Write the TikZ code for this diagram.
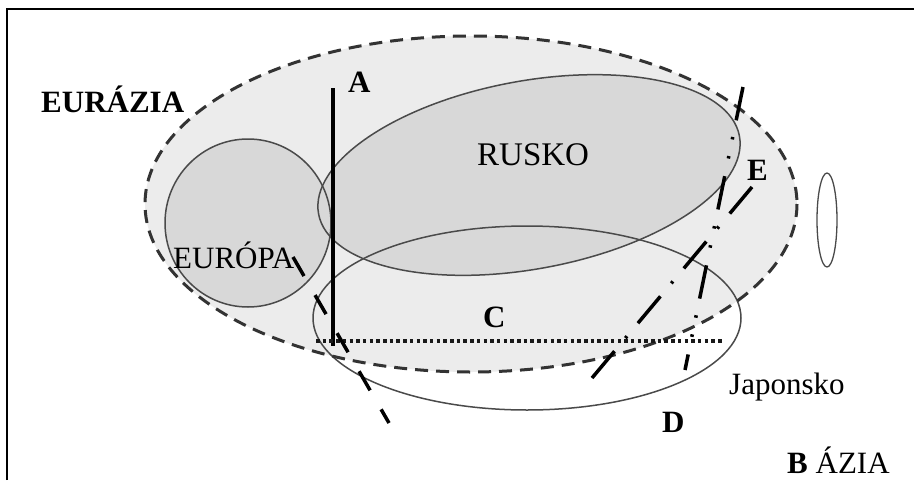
\documentclass[tikz,border=0pt]{standalone}
\usepackage{fontspec}
\setmainfont{Liberation Serif}
\definecolor{eurfill}{HTML}{ECECEC}
\definecolor{darkfill}{HTML}{D8D8D8}
\definecolor{outlinegray}{HTML}{4A4A4A}
\definecolor{dashgray}{HTML}{333333}
\begin{document}
\begin{tikzpicture}[x=1pt,y=-1pt,
  outl/.style={draw=outlinegray, line width=1.5pt},
  eurdash/.style={draw=dashgray, line width=3pt, dash pattern=on 13pt off 8pt},
  thickline/.style={draw=black, line width=3.5pt},
  lbl/.style={anchor=base west, inner sep=0pt, font=\fontsize{31}{31}\selectfont},
  boldlbl/.style={anchor=base west, inner sep=0pt, font=\fontsize{31}{31}\selectfont\bfseries}]
\useasboundingbox (0,0) rectangle (914,480);
\fill[white] (0,0) rectangle (914,480);
% frame
\coordinate (f1) at (7,480);
\coordinate (f2) at (7,8.5);
\coordinate (f3) at (914,8.5);
\draw[line width=2pt] (f1) -- (f2) -- (f3);
% fills
\fill[eurfill] (471,204) ellipse [x radius=326, y radius=168];
\fill[darkfill] (248,223) ellipse [x radius=83, y radius=84];
\fill[darkfill, rotate around={10.5:(529,175)}] (529,175) ellipse [x radius=214, y radius=94];
% outlines
\draw[outl] (248,223) ellipse [x radius=83, y radius=84];
\draw[outl, rotate around={10.5:(529,175)}] (529,175) ellipse [x radius=214, y radius=94];
\draw[outl] (527,318) ellipse [x radius=214, y radius=92];
\draw[outl, line width=1.3pt] (827,220) ellipse [x radius=10, y radius=47];
\draw[eurdash] (471,204) ellipse [x radius=326, y radius=168];
% lines
\coordinate (Atop) at (333,88);
\coordinate (Abot) at (333,346);
\draw[thickline] (Atop) -- (Abot);
\coordinate (Cl) at (316,341);
\coordinate (Cr) at (723,341);
\draw[draw=black!90, line width=3.5pt, dash pattern=on 3.5pt off 3.2pt] (Cl) -- (Cr);
\coordinate (Pt) at (293,257);
\coordinate (Pb) at (389,423);
\draw[thickline, dash pattern=on 22pt off 22pt] (Pt) -- (Pb);
\coordinate (Eb) at (592,378);
\coordinate (Et) at (752,187);
\draw[thickline, dash pattern=on 35pt off 17pt on 2.5pt off 17pt] (Eb) -- (Et);
\coordinate (Dt) at (743,87);
\coordinate (Db) at (685,370);
\draw[thickline, dash pattern=on 34pt off 17pt on 2.5pt off 17pt on 2.5pt off 18pt] (Dt) -- (Db);
% labels
\node[boldlbl] (eurazia) at (41,112) {EURÁZIA};
\node[boldlbl] (la) at (348,92) {A};
\node[lbl, font=\fontsize{33}{33}\selectfont] (rusko) at (477,165) {RUSKO};
\node[lbl] (europa) at (173,268) {EURÓPA};
\node[boldlbl] (lc) at (483,327) {C};
\node[boldlbl] (le) at (747,180) {E};
\node[lbl] (japonsko) at (729,394) {Japonsko};
\node[boldlbl] (ld) at (662,432) {D};
\node[lbl] (azia) at (787,473) {\textbf{B} ÁZIA};
\end{tikzpicture}
\end{document}
